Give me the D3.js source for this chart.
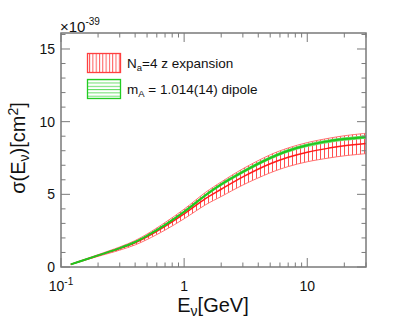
<!DOCTYPE html>
<html>
<head>
<meta charset="utf-8">
<script src="https://cdn.jsdelivr.net/npm/d3@7"></script>
<style>
body { margin: 0; background: #fff; }
text { font-family: "Liberation Sans", Arial, sans-serif; fill: #111; }
</style>
</head>
<body>
<svg width="407" height="335"></svg>
<script>
// neutrino energy [GeV]
var energy = [0.12, 0.15, 0.2, 0.3, 0.4, 0.5, 0.7, 1, 1.5, 2, 3, 5, 7, 10, 15, 20, 30];
// dipole fit, m_A = 1.014(14)
var dipole    = [0.18, 0.45, 0.80, 1.30, 1.72, 2.15, 2.90, 3.80, 4.95, 5.68, 6.55, 7.50, 8.00, 8.38, 8.66, 8.80, 8.95];
var dipoleErr = [0.01, 0.02, 0.03, 0.05, 0.06, 0.07, 0.08, 0.09, 0.10, 0.11, 0.12, 0.12, 0.12, 0.12, 0.12, 0.12, 0.12];
// z expansion, N_a = 4
var zexp    = [0.18, 0.45, 0.79, 1.27, 1.67, 2.08, 2.80, 3.65, 4.72, 5.35, 6.20, 7.10, 7.55, 7.90, 8.18, 8.34, 8.50];
var zexpErr = [0.02, 0.03, 0.06, 0.11, 0.15, 0.19, 0.26, 0.33, 0.43, 0.50, 0.56, 0.62, 0.64, 0.66, 0.68, 0.69, 0.70];

var xMajor = [0.1, 1, 10];
var xMajorLabels = ["10", "1", "10"];
var xMinor = [0.2, 0.3, 0.4, 0.5, 0.6, 0.7, 0.8, 0.9, 2, 3, 4, 5, 6, 7, 8, 9, 20, 30];
var yMajor = [0, 5, 10, 15];
var yMinor = [1, 2, 3, 4, 6, 7, 8, 9, 11, 12, 13, 14, 16];

var plotLeft = 61, plotRight = 366, plotTop = 33, plotBottom = 267;

var x = d3.scaleLog().domain([0.1, 30]).range([plotLeft, plotRight]);
var y = d3.scaleLinear().domain([0, 16.1]).range([plotBottom, plotTop]);

var svg = d3.select("svg");
var defs = svg.append("defs");

function hatch(id, color, gap, vertical, w) {
  var p = defs.append("pattern")
    .attr("id", id)
    .attr("patternUnits", "userSpaceOnUse")
    .attr("width", gap).attr("height", gap);
  p.append("line")
    .attr("x1", vertical ? 0.5 : 0).attr("x2", vertical ? 0.5 : gap)
    .attr("y1", vertical ? 0 : 0.5).attr("y2", vertical ? gap : 0.5)
    .attr("stroke", color).attr("stroke-width", w);
}
hatch("redHatch", "#ff5050", 4, true, 1);
hatch("redHatchLeg", "#ff5a5a", 3.3, true, 1);
hatch("greenHatchLeg", "#66dd66", 3.3, false, 1);

var pts = energy.map(function(e, i) {
  return { e: e, d: dipole[i], de: dipoleErr[i], z: zexp[i], ze: zexpErr[i] };
});

var curve = d3.curveCatmullRom.alpha(0.5);

// z expansion band
svg.append("path")
  .datum(pts)
  .attr("fill", "url(#redHatch)")
  .attr("stroke", "none")
  .attr("d", d3.area().curve(curve)
    .x(function(d) { return x(d.e); })
    .y0(function(d) { return y(d.z - d.ze); })
    .y1(function(d) { return y(d.z + d.ze); }));

[1, -1].forEach(function(s) {
  svg.append("path")
    .datum(pts)
    .attr("fill", "none")
    .attr("stroke", "#ff7070")
    .attr("stroke-width", 1)
    .attr("d", d3.line().curve(curve)
      .x(function(d) { return x(d.e); })
      .y(function(d) { return y(d.z + s * d.ze); }));
});

// dipole band
svg.append("path")
  .datum(pts)
  .attr("fill", "#6fdc6f")
  .attr("stroke", "none")
  .attr("d", d3.area().curve(curve)
    .x(function(d) { return x(d.e); })
    .y0(function(d) { return y(d.d - d.de); })
    .y1(function(d) { return y(d.d + d.de); }));

svg.append("path")
  .datum(pts)
  .attr("fill", "none")
  .attr("stroke", "#ff1a1a")
  .attr("stroke-width", 1.5)
  .attr("d", d3.line().curve(curve)
    .x(function(d) { return x(d.e); })
    .y(function(d) { return y(d.z); }));

svg.append("path")
  .datum(pts)
  .attr("fill", "none")
  .attr("stroke", "#1ec81e")
  .attr("stroke-width", 2)
  .attr("d", d3.line().curve(curve)
    .x(function(d) { return x(d.e); })
    .y(function(d) { return y(d.d); }));

// frame and ticks
var axisColor = "#7a7a7a";
svg.append("rect")
  .attr("x", plotLeft).attr("y", plotTop)
  .attr("width", plotRight - plotLeft).attr("height", plotBottom - plotTop)
  .attr("fill", "none").attr("stroke", axisColor).attr("stroke-width", 1.5);

var ticks = svg.append("g").attr("stroke", axisColor).attr("stroke-width", 1);

function xTicks(vals, len) {
  vals.forEach(function(v) {
    ticks.append("line").attr("x1", x(v)).attr("x2", x(v)).attr("y1", plotBottom).attr("y2", plotBottom - len);
    ticks.append("line").attr("x1", x(v)).attr("x2", x(v)).attr("y1", plotTop).attr("y2", plotTop + len);
  });
}
function yTicks(vals, len) {
  vals.forEach(function(v) {
    ticks.append("line").attr("y1", y(v)).attr("y2", y(v)).attr("x1", plotLeft).attr("x2", plotLeft + len);
    ticks.append("line").attr("y1", y(v)).attr("y2", y(v)).attr("x1", plotRight).attr("x2", plotRight - len);
  });
}
xTicks(xMajor, 9);
xTicks(xMinor, 4.5);
yTicks(yMajor, 9);
yTicks(yMinor, 4.5);

// tick labels
xMajor.forEach(function(v, i) {
  var t = svg.append("text")
    .attr("x", x(v)).attr("y", 291)
    .attr("text-anchor", "middle")
    .attr("font-size", 14)
    .text(xMajorLabels[i]);
  if (i === 0) {
    t.append("tspan").attr("dy", -6).attr("font-size", 10).text("-1");
  }
});

yMajor.forEach(function(v) {
  svg.append("text")
    .attr("x", 55).attr("y", y(v) + 5)
    .attr("text-anchor", "end")
    .attr("font-size", 14)
    .text(v);
});

var exp = svg.append("text").attr("x", 60).attr("y", 32).attr("font-size", 15).text("\u00d710");
exp.append("tspan").attr("dy", -7).attr("font-size", 10).text("-39");

// axis titles
var xt = svg.append("text")
  .attr("x", 213).attr("y", 312)
  .attr("text-anchor", "middle")
  .attr("font-size", 20)
  .text("E");
xt.append("tspan").attr("dy", 4).attr("font-size", 14).text("\u03bd");
xt.append("tspan").attr("dy", -4).text("[GeV]");

var yt = svg.append("text")
  .attr("transform", "translate(25,148) rotate(-90)")
  .attr("text-anchor", "middle")
  .attr("font-size", 20)
  .text("\u03c3(E");
yt.append("tspan").attr("dy", 4).attr("font-size", 14).text("\u03bd");
yt.append("tspan").attr("dy", -4).text(")[cm");
yt.append("tspan").attr("dy", -7).attr("font-size", 14).text("2");
yt.append("tspan").attr("dy", 7).text("]");

// legend
var legend = [
  { fill: "url(#redHatchLeg)", stroke: "#ff4040", main: "N", sub: "a", rest: "=4 z expansion" },
  { fill: "url(#greenHatchLeg)", stroke: "#22cc22", main: "m", sub: "A", rest: " = 1.014(14) dipole" }
];
legend.forEach(function(l, i) {
  var yy = 53.5 + i * 26;
  svg.append("rect")
    .attr("x", 87.5).attr("y", yy)
    .attr("width", 33).attr("height", 19)
    .attr("fill", l.fill)
    .attr("stroke", l.stroke).attr("stroke-width", 1.3);
  var t = svg.append("text")
    .attr("x", 127).attr("y", yy + 14.5)
    .attr("font-size", 13.5)
    .text(l.main);
  t.append("tspan").attr("dy", 3).attr("font-size", 9.5).text(l.sub);
  t.append("tspan").attr("dy", -3).text(l.rest);
});
</script>
</body>
</html>
